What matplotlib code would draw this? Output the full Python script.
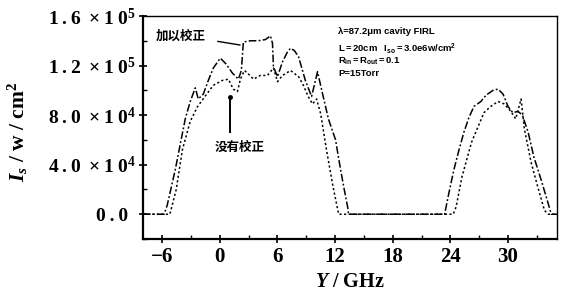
import matplotlib
matplotlib.use("Agg")
import matplotlib.pyplot as plt
from matplotlib.ticker import MultipleLocator, FixedLocator

plt.rcParams['mathtext.fontset'] = 'custom'
plt.rcParams['mathtext.rm'] = 'Liberation Serif:bold'
plt.rcParams['mathtext.bf'] = 'Liberation Serif:bold'
plt.rcParams['mathtext.it'] = 'Liberation Serif:italic:bold'
plt.rcParams['mathtext.sf'] = 'Liberation Sans:bold'

# ---- data (GHz, W/cm^2 in units of 1e4) ----
corr_x = [-8.0, -5.8, -5.48, -4.64, -3.6, -3.08, -2.56, -2.24, -1.72, -1.2, -0.68, 0.05,
          0.68, 1.3, 1.93, 2.24, 2.45, 3.18, 4.0, 4.75, 5.27, 5.48, 5.58, 6.0, 6.52, 7.04,
          7.36, 7.77, 8.2, 8.9, 9.55, 10.17, 10.7, 11.3, 12.05, 12.26, 12.57, 12.9, 13.3,
          13.4, 23.4, 23.84, 24.37, 24.9, 25.4, 25.93, 26.45, 27.18, 27.7, 28.44, 28.96,
          29.48, 30.0, 30.5, 31.04, 31.5, 32.1, 32.7, 33.44, 34.17, 34.5, 35.1]
corr_y = [0, 0, 0.73, 3.6, 7.7, 9.1, 10.2, 9.3, 9.7, 10.8, 11.8, 12.6,
          12.1, 11.4, 10.9, 11.6, 13.9, 14.0, 14.0, 14.1, 14.4, 13.8, 11.9, 11.1, 12.3, 13.1,
          13.4, 13.2, 12.7, 10.8, 9.5, 11.5, 9.7, 7.7, 6.0, 5.0, 3.6, 2.2, 0.6,
          0, 0, 1.7, 3.6, 5.2, 6.6, 7.8, 8.7, 9.1, 9.6, 10.0, 10.1,
          9.7, 8.7, 8.2, 8.3, 8.0, 6.6, 4.6, 2.8, 0.9, 0, 0]

unc_x = [-8.0, -5.2, -4.54, -3.9, -3.08, -2.35, -1.51, -0.68, 0.26, 0.89, 1.4, 1.83,
         2.14, 2.56, 2.87, 3.5, 4.2, 4.96, 5.58, 6.0, 6.52, 7.36, 8.2, 8.7, 9.2, 9.65,
         10.07, 10.5, 11.1, 11.74, 12.37, 24.3, 24.6, 25.2, 25.7, 26.2, 26.9, 27.5,
         28.2, 28.96, 29.6, 30.3, 30.8, 31.36, 31.7, 32.4, 33.1, 33.8, 34.2, 35.1]
unc_y = [0, 0, 2.0, 5.2, 7.5, 8.65, 9.55, 10.4, 10.8, 10.9, 10.1, 9.9,
         10.9, 11.6, 11.4, 10.9, 11.2, 11.2, 11.8, 10.7, 11.2, 11.6, 11.1, 10.4, 9.5, 8.9,
         9.3, 8.1, 5.2, 2.4, 0, 0, 0.6, 3.0, 4.4, 5.8, 7.1, 8.2,
         8.7, 9.1, 8.9, 8.3, 7.7, 9.3, 6.9, 4.2, 2.2, 0.3, 0, 0]

T = "\u2009"
yticks = [0, 4e4, 8e4, 1.2e5, 1.6e5]
ytick_labels = ["0" + T + "." + T + "0" + T + T,
                "4" + T + "." + T + "0 " + T + "×" + T + "1" + T + "0$^4$",
                "8" + T + "." + T + "0 " + T + "×" + T + "1" + T + "0$^4$",
                "1" + T + "." + T + "2 " + T + "×" + T + "1" + T + "0$^5$",
                "1" + T + "." + T + "6 " + T + "×" + T + "1" + T + "0$^5$"]
xticks = [-6, 0, 6, 12, 18, 24, 30]
xtick_labels = ["−6", "0", "6", "12", "18", "24", "30"]

fig = plt.figure(figsize=(5.62, 2.95), dpi=100)
ax = fig.add_axes([143/562, 1-239/295, (557-143)/562, (239-16)/295])

ax.plot(corr_x, [v*1e4 for v in corr_y], color='black', lw=1.1,
        linestyle=(0, (5, 1.5, 1.2, 1.5)))
ax.plot(unc_x, [v*1e4 for v in unc_y], color='black', lw=1.1,
        linestyle=(0, (1.4, 1.6)))

ax.set_xlim(-8, 35.1)
ax.set_ylim(-2.0e4, 1.6e5)

ax.xaxis.set_major_locator(FixedLocator(xticks))
ax.set_xticklabels(xtick_labels)
ax.xaxis.set_minor_locator(MultipleLocator(3))
ax.yaxis.set_major_locator(FixedLocator(yticks))
ax.set_yticklabels(ytick_labels)
ax.yaxis.set_minor_locator(MultipleLocator(2e4))

for lab in ax.get_xticklabels():
    lab.set_fontfamily('Liberation Serif')
    lab.set_fontweight('bold')
    lab.set_fontsize(15)
for lab in ax.get_yticklabels():
    lab.set_fontfamily('Liberation Serif')
    lab.set_fontweight('bold')
    lab.set_fontsize(14)

ax.tick_params(which='major', direction='inout', length=6, width=1.2, pad=3)
ax.tick_params(axis='y', which='major', pad=2)
ax.tick_params(which='minor', direction='in', length=3, width=1.0)

ax.spines['left'].set_linewidth(1.6)
ax.spines['bottom'].set_linewidth(1.6)
ax.spines['top'].set_linewidth(1.0)
ax.spines['right'].set_linewidth(1.0)

ax.set_ylabel("$\\mathit{I}_{s}$ / w / cm$^{2}$", fontsize=15.5,
              fontfamily='Liberation Serif', fontweight='bold')
ax.yaxis.set_label_coords(-0.272, 0.48)
ax.set_xlabel("$\\mathit{Y}$ / GHz", fontsize=14.5,
              fontfamily='Liberation Serif', fontweight='bold')
ax.xaxis.set_label_coords(0.5, -0.15)

cjk = ['Noto Sans CJK SC', 'DejaVu Sans']
ax.text(-4.05, 1.438e5, "加以校正", fontsize=9, fontweight='bold',
        family=cjk, ha='center', va='center')
ax.plot([-0.2, 2.08], [1.395e5, 1.366e5], color='black', lw=1.0)

ax.text(2.1, 5.4e4, "没有校正", fontsize=9, fontweight='bold',
        family=cjk, ha='center', va='center')
ax.plot([1.04, 1.04], [9.45e4, 6.6e4], color='black', lw=1.4)
ax.plot([1.04], [9.45e4], 'o', color='black', ms=2.5)

leg_lines = [
    "λ=87.2μm cavity FIRL",
    "$\\mathsf{L{=}20cm\\ \\ \\ I_{so}{=}3.0e6w/cm^{2}}$",
    "$\\mathsf{R_{in}{=}R_{out}{=}0.1}$",
    "P=15Torr",
]
leg_y = [1.476e5, 1.338e5, 1.232e5, 1.135e5]
for s, yy in zip(leg_lines, leg_y):
    ax.text(12.3, yy, s, fontsize=6.8, ha='left', va='center',
            family='Liberation Sans', fontweight='bold')

fig.savefig("out.png", dpi=100)
